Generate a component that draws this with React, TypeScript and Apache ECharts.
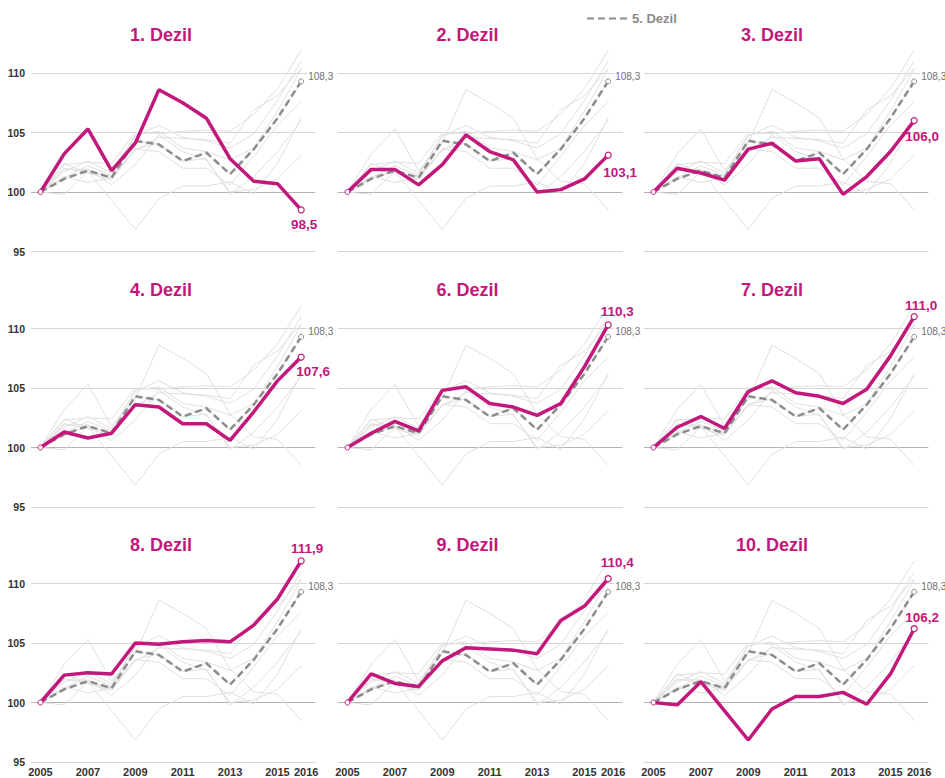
import React, { useEffect, useRef } from "react";
import * as echarts from "echarts";

// ---------- data ----------
const years = [2005, 2006, 2007, 2008, 2009, 2010, 2011, 2012, 2013, 2014, 2015, 2016];
const xLabelYears = [2005, 2007, 2009, 2011, 2013, 2015, 2016];

const decile1 = [100, 103.2, 105.3, 101.8, 104.1, 108.6, 107.5, 106.2, 102.8, 100.9, 100.7, 98.5];
const decile2 = [100, 101.9, 101.9, 100.6, 102.3, 104.8, 103.4, 102.7, 100.0, 100.2, 101.1, 103.1];
const decile3 = [100, 102.0, 101.6, 101.0, 103.6, 104.1, 102.6, 102.8, 99.8, 101.3, 103.4, 106.0];
const decile4 = [100, 101.3, 100.8, 101.2, 103.6, 103.4, 102.0, 102.0, 100.6, 103.0, 105.6, 107.6];
const decile5 = [100, 101.1, 101.8, 101.2, 104.3, 104.0, 102.6, 103.3, 101.5, 103.6, 106.2, 109.3];
const decile6 = [100, 101.2, 102.2, 101.4, 104.8, 105.1, 103.7, 103.4, 102.7, 103.7, 106.8, 110.3];
const decile7 = [100, 101.7, 102.6, 101.6, 104.7, 105.6, 104.6, 104.3, 103.7, 104.9, 107.7, 111.0];
const decile8 = [100, 102.3, 102.5, 102.4, 105.0, 104.9, 105.1, 105.2, 105.1, 106.5, 108.7, 111.9];
const decile9 = [100, 102.4, 101.6, 101.35, 103.5, 104.6, 104.5, 104.4, 104.1, 106.9, 108.1, 110.4];
const decile10 = [100, 99.8, 101.75, 99.3, 96.85, 99.45, 100.5, 100.5, 100.85, 99.85, 102.4, 106.2];

const deciles = [decile1, decile2, decile3, decile4, decile5, decile6, decile7, decile8, decile9, decile10];
const panelDeciles = [1, 2, 3, 4, 6, 7, 8, 9, 10];
const referenceDecile = 5;
const referenceName = "5. Dezil";
const referenceEndLabel = "108,3";
const yMin = 95;
const yMax = 115;
const yStep = 5;

// ---------- styles / layout ----------
const MAG = "#C2177B";
const DASH = "#8c8c8c";
const SANS = "'Liberation Sans', Arial, sans-serif";
const colLeft = [31, 338, 644];
const gridWidth = 284.4;
const rowTop = [13.5, 269, 524];
const gridHeight = 238;
const titleX = [161, 467.5, 772];
const titleTop = [26, 281, 536];
const X_MIN = 2004.6;
const X_MAX = 2016.6;
const endLabelPlacement: { pos: string; offset: number[] }[] = [
  { pos: "bottom", offset: [3, 0] },
  { pos: "bottom", offset: [12, 3] },
  { pos: "bottom", offset: [8, 1] },
  { pos: "bottom", offset: [12, 0] },
  { pos: "top", offset: [9, 1] },
  { pos: "top", offset: [7, 3] },
  { pos: "top", offset: [6, 2] },
  { pos: "top", offset: [9, -2] },
  { pos: "top", offset: [8, 3] },
];

const fmt = (v: number) => v.toFixed(1).replace(".", ",");

const xLabelStyle = {
  margin: 4,
  fontFamily: SANS,
  fontWeight: "bold",
  fontSize: 11,
  color: "#333",
  hideOverlap: false,
};

function buildOption() {
  const grid: any[] = [];
  const xAxis: any[] = [];
  const extraX: any[] = [];
  const yAxis: any[] = [];
  const title: any[] = [];
  const series: any[] = [];

  panelDeciles.forEach((dec, i) => {
    const r = Math.floor(i / 3);
    const c = i % 3;
    grid.push({
      left: colLeft[c],
      top: rowTop[r],
      width: gridWidth,
      height: gridHeight,
      containLabel: false,
      outerBoundsMode: "none",
    });
    xAxis.push({
      gridIndex: i,
      type: "value",
      position: "bottom",
      min: X_MIN,
      max: X_MAX,
      axisLine: { show: false },
      axisTick: { show: false },
      splitLine: { show: false },
      axisLabel: {
        ...xLabelStyle,
        show: r === 2,
        customValues: xLabelYears.slice(0, -1),
        formatter: (v: number) => String(v),
      },
    });
    if (r === 2) {
      // the last year label sits on its own axis so it can stand slightly to the right
      extraX.push({
        gridIndex: i,
        type: "value",
        position: "bottom",
        offset: 0,
        min: X_MIN,
        max: X_MAX,
        axisLine: { show: false },
        axisTick: { show: false },
        splitLine: { show: false },
        axisLabel: {
          ...xLabelStyle,
          show: true,
          customValues: xLabelYears.slice(-1),
          formatter: (v: number) => `{r|${v}}`,
          rich: {
            r: {
              padding: [0, 0, 0, 10],
              fontFamily: SANS,
              fontWeight: "bold",
              fontSize: 11,
              color: "#333",
            },
          },
        },
      });
    }
    yAxis.push({
      gridIndex: i,
      type: "value",
      min: yMin,
      max: yMax,
      interval: yStep,
      axisLine: { show: false },
      axisTick: { show: false },
      axisLabel: {
        show: c === 0,
        formatter: (v: number) => (v === yMax ? "" : String(v)),
        margin: 6,
        fontFamily: SANS,
        fontWeight: "bold",
        fontSize: 10.5,
        color: "#333",
      },
      splitLine: {
        show: true,
        showMaxLine: false,
        lineStyle: { color: ["#d6d6d6", "#b4b4b4", "#d6d6d6", "#d6d6d6", "rgba(0,0,0,0)"], width: 1 },
      },
    });
    title.push({
      text: `${dec}. Dezil`,
      left: titleX[c],
      top: titleTop[r],
      textAlign: "center",
      padding: 0,
      textStyle: { color: MAG, fontSize: 18, fontWeight: "bold", fontFamily: SANS },
    });

    deciles.forEach((vals, k) => {
      series.push({
        type: "line",
        xAxisIndex: i,
        yAxisIndex: i,
        silent: true,
        symbol: "none",
        z: 1,
        color: "#e0e0e0",
        lineStyle: { color: "#e0e0e0", width: 1 },
        data: years.map((y, j) => [y, vals[j]]),
        name: `g${k}`,
      });
    });

    const ref = deciles[referenceDecile - 1];
    series.push({
      name: referenceName,
      type: "line",
      xAxisIndex: i,
      yAxisIndex: i,
      silent: true,
      symbol: "none",
      z: 2,
      color: DASH,
      lineStyle: { color: DASH, width: 2.5, type: [7, 4] },
      data: years.map((y, j) =>
        j === years.length - 1
          ? {
              value: [y, ref[j]],
              symbol: "circle",
              symbolSize: 5,
              itemStyle: { color: "#fff", borderColor: DASH, borderWidth: 1 },
              label: {
                show: true,
                position: "right",
                distance: 3,
                offset: [0, -5],
                formatter: referenceEndLabel,
                fontFamily: SANS,
                fontSize: 10,
                color: "#6f6f6f",
                backgroundColor: "#fff",
                padding: [0, 1],
              },
            }
          : [y, ref[j]]
      ),
    });

    const hv = deciles[dec - 1];
    const pl = endLabelPlacement[i];
    series.push({
      name: `d${dec}`,
      type: "line",
      xAxisIndex: i,
      yAxisIndex: i,
      silent: true,
      symbol: "none",
      z: 3,
      color: MAG,
      lineStyle: { color: MAG, width: 3.5 },
      data: years.map((y, j) => {
        if (j === 0) {
          return {
            value: [y, hv[j]],
            symbol: "circle",
            symbolSize: 5,
            itemStyle: { color: "#fff", borderColor: MAG, borderWidth: 1 },
          };
        }
        if (j === years.length - 1) {
          return {
            value: [y, hv[j]],
            symbol: "circle",
            symbolSize: 6,
            itemStyle: { color: "#fff", borderColor: MAG, borderWidth: 1.2 },
            label: {
              show: true,
              position: pl.pos,
              distance: 4,
              offset: pl.offset,
              formatter: fmt(hv[j]),
              fontFamily: SANS,
              fontWeight: "bold",
              fontSize: 13.5,
              color: MAG,
            },
          };
        }
        return [y, hv[j]];
      }),
    });
  });

  return {
    animation: false,
    backgroundColor: "#fff",
    title,
    legend: {
      data: [referenceName],
      left: 586,
      top: 12,
      padding: 0,
      itemWidth: 40,
      itemHeight: 14,
      itemGap: 6,
      selectedMode: false,
      itemStyle: { opacity: 0 },
      textStyle: { color: "#8a8a8a", fontSize: 13, fontWeight: "bold", fontFamily: SANS },
    },
    grid,
    xAxis: [...xAxis, ...extraX],
    yAxis,
    series,
  };
}

export default function App() {
  const ref = useRef<HTMLDivElement>(null);
  useEffect(() => {
    if (!ref.current) return;
    const chart = echarts.init(ref.current, null, { renderer: "svg" });
    chart.setOption(buildOption() as any);
    return () => chart.dispose();
  }, []);
  return (
    <div
      ref={ref}
      style={{ position: "fixed", left: 0, top: 0, width: 945, height: 778, background: "#fff" }}
    />
  );
}
